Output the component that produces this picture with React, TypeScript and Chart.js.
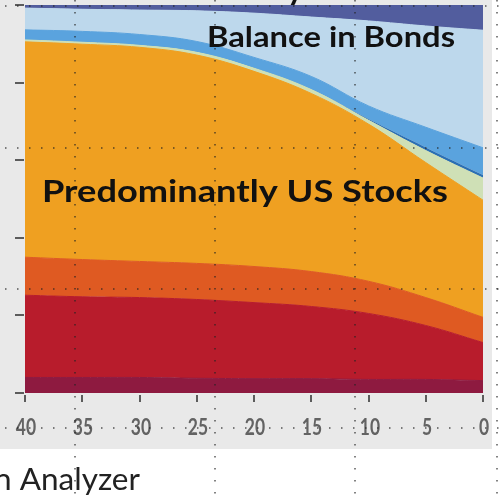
import React, { useEffect, useRef } from "react";
import { Chart, registerables } from "chart.js";

Chart.register(...registerables);

// Years to target date (x axis, reversed 40 -> 0)
const ages = [40, 35, 30, 25, 20, 15, 10, 5, 0];
const xTickLabels = ["40", "35", "30", "25", "20", "15", "10", "5", "0"];
const yTickValues = [0, 20, 40, 60, 80, 100];

// Stacked allocation layers (percent), bottom to top
const maroon = [4.0, 4.0, 4.0, 3.8, 3.7, 3.7, 3.5, 3.5, 3.2];
const red = [21.2, 20.8, 20.6, 20.3, 19.6, 18.6, 17.0, 13.9, 9.8];
const orangeRed = [9.8, 9.6, 9.3, 9.3, 9.3, 9.0, 8.3, 7.2, 6.5];
const usStocks = [55.5, 55.5, 55.2, 53.7, 50.3, 45.9, 40.5, 34.8, 30.2];
const paleGreen = [0.5, 0.5, 0.5, 0.7, 0.8, 1.0, 1.0, 3.1, 5.7];
const darkBlue = [0, 0, 0, 0, 0, 0, 0.3, 0.8, 0.8];
const midBlue = [2.6, 2.8, 2.8, 2.8, 2.8, 3.4, 3.4, 5.2, 7.0];
const lightBlue = [5.6, 5.7, 6.3, 7.9, 11.4, 15.3, 21.9, 26.1, 30.3];
const navy = [0.9, 1.1, 1.3, 1.5, 2.1, 3.1, 4.1, 5.4, 6.5];

const layers = [
  { data: maroon, color: "#8e1a40", border: 1 },
  { data: red, color: "#b81c2c", border: 1 },
  { data: orangeRed, color: "#df5a22", border: 1 },
  { data: usStocks, color: "#efa021", border: 1 },
  { data: paleGreen, color: "#cfe0b6", border: 1 },
  { data: darkBlue, color: "#2b6fb4", border: 0 },
  { data: midBlue, color: "#5aa3de", border: 1 },
  { data: lightBlue, color: "#bdd8ec", border: 1 },
  { data: navy, color: "#525d9e", border: 1 },
];

const dotColumns = [75, 215, 355, 497];
const dotRows = [6, 148, 289, 428];

function drawScaledText(
  ctx: CanvasRenderingContext2D,
  text: string,
  x: number,
  y: number,
  font: string,
  color: string,
  width: number
) {
  ctx.save();
  ctx.font = font;
  const w = ctx.measureText(text).width;
  ctx.translate(x, y);
  ctx.scale(width / w, 1);
  ctx.fillStyle = color;
  ctx.textAlign = "left";
  ctx.textBaseline = "alphabetic";
  ctx.fillText(text, 0, 0);
  ctx.restore();
}

const decor = {
  id: "decor",
  beforeDraw(chart: any) {
    const ctx = chart.ctx as CanvasRenderingContext2D;
    ctx.save();
    ctx.fillStyle = "#ffffff";
    ctx.fillRect(0, 0, chart.width, chart.height);
    ctx.fillStyle = "#e9e9e9";
    ctx.fillRect(0, 0, 492, 449);
    ctx.restore();
  },
  afterDraw(chart: any) {
    const ctx = chart.ctx as CanvasRenderingContext2D;
    const area = chart.chartArea;
    const xs = chart.scales.x;
    const ys = chart.scales.y;
    ctx.save();
    // y tick marks
    ctx.fillStyle = "#5c5c5c";
    yTickValues.forEach((v) => {
      const py = Math.round(ys.getPixelForValue(v));
      ctx.fillRect(area.left - 10, py - 1, 9, 2);
    });
    // x tick marks + labels
    ages.forEach((a, i) => {
      const px = Math.round(xs.getPixelForValue(a));
      ctx.fillStyle = "#5c5c5c";
      ctx.fillRect(px - 1, area.bottom + 2, 2, 7);
      ctx.save();
      ctx.font = "bold 23px Lato";
      ctx.translate(px + 1, 428);
      ctx.scale(0.76, 1);
      ctx.fillStyle = "#636363";
      ctx.textAlign = "center";
      ctx.textBaseline = "middle";
      ctx.fillText(xTickLabels[i], 0, 0);
      ctx.restore();
    });

    // annotations
    drawScaledText(ctx, "Balance in Bonds", 207, 47, "bold 28px Lato", "#111111", 248);
    drawScaledText(ctx, "Predominantly US Stocks", 42, 202, "bold 30px Lato", "#111111", 406);
    drawScaledText(ctx, "n Analyzer", -6, 490, "30px Lato", "#222222", 146);
    ctx.font = "bold 32px Lato";
    ctx.fillStyle = "#111111";
    ctx.textBaseline = "alphabetic";
    ctx.fillText("y", 287, 0);

    // dotted sheet gridlines overlay
    ctx.strokeStyle = "rgba(35,35,35,0.75)";
    ctx.lineWidth = 1.5;
    ctx.setLineDash([1.5, 10.5]);
    dotColumns.forEach((cx) => {
      ctx.beginPath();
      ctx.moveTo(cx, 0);
      ctx.lineTo(cx, chart.height);
      ctx.stroke();
    });
    dotRows.forEach((ry) => {
      ctx.beginPath();
      ctx.moveTo(5, ry);
      ctx.lineTo(chart.width, ry);
      ctx.stroke();
    });
    ctx.restore();
  },
};

export default function App() {
  const ref = useRef<HTMLCanvasElement | null>(null);

  useEffect(() => {
    if (!ref.current) return;
    const chart = new Chart(ref.current, {
      type: "line",
      data: {
        datasets: layers.map((l, i) => ({
          data: ages.map((a, j) => ({ x: a, y: l.data[j] })),
          backgroundColor: l.color,
          borderColor: l.color,
          borderWidth: l.border,
          pointRadius: 0,
          fill: i === 0 ? "origin" : "-1",
          tension: 0.4,
        })),
      },
      options: {
        responsive: false,
        animation: false,
        devicePixelRatio: 1,
        layout: { padding: { left: 25, right: 17, top: 5, bottom: 106 } },
        plugins: { legend: { display: false }, tooltip: { enabled: false } },
        scales: {
          x: { type: "linear", min: 0, max: 40, reverse: true, display: false },
          y: { type: "linear", min: 0, max: 100, stacked: true, display: false },
        },
      },
      plugins: [decor],
    });
    return () => chart.destroy();
  }, []);

  return (
    <div style={{ position: "absolute", left: 0, top: 0, width: 500, height: 499 }}>
      <canvas ref={ref} width={500} height={499} style={{ display: "block" }} />
    </div>
  );
}
